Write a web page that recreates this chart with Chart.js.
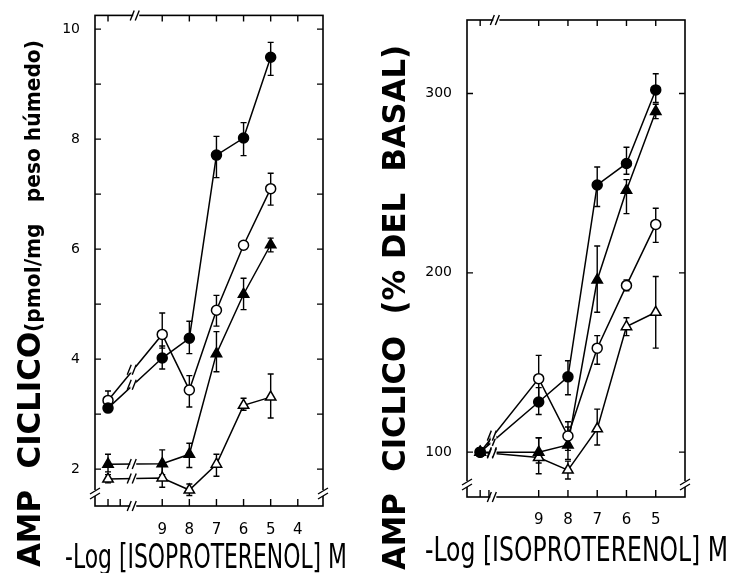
<!DOCTYPE html>
<html>
<head>
<meta charset="utf-8">
<script src="https://cdn.jsdelivr.net/npm/chart.js@4.4.1/dist/chart.umd.min.js"></script>
<style>
  html, body { margin: 0; padding: 0; background: #fff; }
  #wrap { position: relative; width: 734px; height: 573px; overflow: hidden; }
  canvas { position: absolute; top: 0; }
  #left { left: 0; }
  #right { left: 367px; }
</style>
</head>
<body>
<div id="wrap">
  <canvas id="left" width="367" height="573"></canvas>
  <canvas id="right" width="367" height="573"></canvas>
</div>
<script>
// -log [isoproterenol] M; 11 stands for the basal point (no drug), drawn before the axis break
const doses = [11, 9, 8, 7, 6, 5];
const leftTickLabels = [9, 8, 7, 6, 5, 4];
const rightTickLabels = [9, 8, 7, 6, 5];
const leftYTicks = [2, 4, 6, 8, 10];
const rightYTicks = [100, 200, 300];

// Left panel: AMP ciclico (pmol/mg peso humedo), mean and error bar ends
const leftFilledCircle   = [3.11, 4.02, 4.38, 7.71, 8.02, 9.49];
const leftFilledCircleHi = [3.18, 4.24, 4.69, 8.05, 8.30, 9.76];
const leftFilledCircleLo = [3.04, 3.82, 4.10, 7.30, 7.70, 9.16];
const leftOpenCircle     = [3.25, 4.45, 3.44, 4.89, 6.07, 7.10];
const leftOpenCircleHi   = [3.42, 4.84, 3.70, 5.16, 6.12, 7.38];
const leftOpenCircleLo   = [3.10, 4.20, 3.13, 4.60, 6.00, 6.80];
const leftFilledTri      = [2.09, 2.10, 2.27, 4.10, 5.18, 6.08];
const leftFilledTriHi    = [2.27, 2.35, 2.47, 4.50, 5.47, 6.20];
const leftFilledTriLo    = [1.95, 1.90, 2.03, 3.77, 4.90, 5.95];
const leftOpenTri        = [1.82, 1.84, 1.62, 2.09, 3.16, 3.31];
const leftOpenTriHi      = [1.90, 2.05, 1.73, 2.27, 3.29, 3.73];
const leftOpenTriLo      = [1.75, 1.67, 1.52, 1.87, 3.07, 2.93];

// Right panel: AMP ciclico (% del basal)
const rightFilledCircle   = [100, 128, 142, 249, 261, 302];
const rightFilledCircleHi = [100, 136, 151, 259, 270, 311];
const rightFilledCircleLo = [100, 121, 132, 237, 255, 295];
const rightOpenCircle     = [100, 141, 109, 158, 193, 227];
const rightOpenCircleHi   = [100, 154, 117, 165, 196, 236];
const rightOpenCircleLo   = [100, 130, 101, 149, 190, 217];
const rightFilledTri      = [100, 100, 104, 196, 246, 290];
const rightFilledTriHi    = [100, 108, 114, 215, 252, 294];
const rightFilledTriLo    = [100,  94,  96, 178, 233, 286];
const rightOpenTri        = [100,  97,  90, 113, 170, 178];
const rightOpenTriHi      = [100, 108,  95, 124, 175, 198];
const rightOpenTriLo      = [100,  88,  85, 104, 165, 158];

const TITLE_BOLD = "bold 32px 'DejaVu Sans', sans-serif";
const TITLE_SMALL = "bold 21px 'DejaVu Sans', sans-serif";
const TITLE_NARROW = "34px 'Liberation Sans Narrow', 'DejaVu Sans Condensed', sans-serif";

function series(values, hi, lo, style, filled) {
  return {
    data: doses.map((d, i) => ({ x: d, y: values[i] })),
    hi, lo,
    borderColor: '#000',
    borderWidth: 1.5,
    backgroundColor: filled ? '#000' : '#fff',
    pointStyle: style,
    pointRadius: style === 'triangle' ? 6 : 5,
    pointBorderWidth: 1.5,
    pointBorderColor: '#000',
    pointBackgroundColor: filled ? '#000' : '#fff',
    tension: 0,
    clip: false,
  };
}

// two short slashes across a line, with a small gap cut out first
function breakMark(ctx, cx, cy, vertical) {
  ctx.save();
  ctx.fillStyle = '#fff';
  ctx.fillRect(cx - 3, cy - 3, 6, 6);
  ctx.strokeStyle = '#000';
  ctx.lineWidth = 1.4;
  ctx.beginPath();
  if (vertical) {
    ctx.moveTo(cx - 5, cy + 1); ctx.lineTo(cx + 5, cy - 5);
    ctx.moveTo(cx - 5, cy + 6); ctx.lineTo(cx + 5, cy);
  } else {
    ctx.moveTo(cx - 6, cy + 5); ctx.lineTo(cx - 2, cy - 5);
    ctx.moveTo(cx - 1, cy + 5); ctx.lineTo(cx + 3, cy - 5);
  }
  ctx.stroke();
  ctx.restore();
}

function drawTitle(ctx, parts, x, y, len, rotate) {
  ctx.save();
  ctx.translate(x, y);
  if (rotate) ctx.rotate(-Math.PI / 2);
  let w = 0;
  parts.forEach((p) => { ctx.font = p.font; w += ctx.measureText(p.text).width; });
  ctx.scale(len / w, 1);
  ctx.fillStyle = '#000';
  ctx.textBaseline = 'alphabetic';
  ctx.textAlign = 'left';
  let cx = 0;
  parts.forEach((p) => { ctx.font = p.font; ctx.fillText(p.text, cx, 0); cx += ctx.measureText(p.text).width; });
  ctx.restore();
}

const framePlugin = {
  id: 'frame',
  beforeDatasetsDraw(chart, args, o) {
    const { ctx, chartArea: a, scales: { x, y } } = chart;
    ctx.save();
    ctx.strokeStyle = '#000';
    ctx.lineWidth = 1.6;
    ctx.strokeRect(a.left, a.top, a.right - a.left, a.bottom - a.top);
    ctx.lineWidth = 1.4;
    ctx.beginPath();
    o.bottomTicks.forEach((v) => {
      const px = x.getPixelForValue(v);
      ctx.moveTo(px, a.bottom); ctx.lineTo(px, a.bottom - 7);
    });
    o.topTicks.forEach((v) => {
      const px = x.getPixelForValue(v);
      ctx.moveTo(px, a.top); ctx.lineTo(px, a.top + 6);
    });
    o.sideTicks.forEach((v) => {
      const py = y.getPixelForValue(v);
      ctx.moveTo(a.left, py); ctx.lineTo(a.left + 6, py);
      ctx.moveTo(a.right, py); ctx.lineTo(a.right - 6, py);
    });
    ctx.stroke();
    breakMark(ctx, x.getPixelForValue(o.breakAt), a.bottom, false);
    breakMark(ctx, x.getPixelForValue(o.breakAt) + 3, a.top, false);
    breakMark(ctx, a.left, a.bottom - 13, true);
    breakMark(ctx, a.right, a.bottom - 13, true);

    // error bars, under the markers
    chart.data.datasets.forEach((ds) => {
      ds.data.forEach((p, i) => {
        const px = x.getPixelForValue(p.x);
        const yh = y.getPixelForValue(ds.hi[i]);
        const yl = y.getPixelForValue(ds.lo[i]);
        ctx.beginPath();
        ctx.moveTo(px, yh); ctx.lineTo(px, yl);
        ctx.moveTo(px - 3, yh); ctx.lineTo(px + 3, yh);
        ctx.moveTo(px - 3, yl); ctx.lineTo(px + 3, yl);
        ctx.stroke();
      });
    });
    ctx.restore();
  },
  afterDatasetsDraw(chart, args, o) {
    const { ctx, scales: { x, y } } = chart;
    // break marks on the segment from basal to the first dose
    chart.data.datasets.forEach((ds) => {
      const p0 = ds.data[0], p1 = ds.data[1];
      const x0 = x.getPixelForValue(p0.x), x1 = x.getPixelForValue(p1.x);
      const y0 = y.getPixelForValue(p0.y), y1 = y.getPixelForValue(p1.y);
      const bx = x.getPixelForValue(o.breakAt);
      const by = y0 + (y1 - y0) * (bx - x0) / (x1 - x0);
      breakMark(ctx, bx, by, false);
    });
  },
  afterDraw(chart, args, o) {
    const ctx = chart.ctx;
    drawTitle(ctx, o.yTitle, o.yTitleX, o.yTitleY, o.yTitleLen, true);
    drawTitle(ctx, [{ text: '-Log [ISOPROTERENOL] M', font: TITLE_NARROW }], o.xTitleX, o.xTitleY, o.xTitleLen, false);
  },
};

function makeChart(id, datasets, cfg) {
  return new Chart(document.getElementById(id), {
    type: 'line',
    data: { datasets },
    plugins: [framePlugin],
    options: {
      responsive: false,
      animation: false,
      layout: { padding: { left: 0, top: cfg.top, right: cfg.right, bottom: 0 } },
      plugins: { legend: { display: false }, tooltip: { enabled: false }, frame: cfg.frame },
      scales: {
        x: {
          type: 'linear', reverse: true, min: cfg.xMin, max: cfg.xMax,
          grid: { display: false }, border: { display: false },
          afterBuildTicks: (s) => { s.ticks = cfg.xLabels.map((v) => ({ value: v })); },
          afterFit: (s) => { s.height = cfg.xHeight; },
          ticks: { color: '#000', padding: cfg.xPad, maxRotation: 0, font: { family: "'DejaVu Sans', sans-serif", size: 15 } },
        },
        y: {
          type: 'linear', min: cfg.yMin, max: cfg.yMax,
          grid: { display: false }, border: { display: false },
          afterBuildTicks: (s) => { s.ticks = cfg.yLabels.map((v) => ({ value: v })); },
          afterFit: (s) => { s.width = cfg.yWidth; },
          ticks: { color: '#000', padding: 7, font: { family: "'DejaVu Sans', sans-serif", size: 14 } },
        },
      },
    },
  });
}

makeChart('left', [
  series(leftFilledCircle, leftFilledCircleHi, leftFilledCircleLo, 'circle', true),
  series(leftOpenCircle, leftOpenCircleHi, leftOpenCircleLo, 'circle', false),
  series(leftFilledTri, leftFilledTriHi, leftFilledTriLo, 'triangle', true),
  series(leftOpenTri, leftOpenTriHi, leftOpenTriLo, 'triangle', false),
], {
  top: 14, right: 44, xHeight: 67, yWidth: 95, xPad: 7,
  xMin: 3.07, xMax: 11.48, yMin: 1.33, yMax: 10.25,
  xLabels: leftTickLabels, yLabels: leftYTicks,
  frame: {
    bottomTicks: [11, 10.55, 9, 8, 7, 6, 5, 4],
    topTicks: [11, 9, 8, 7, 6, 5, 4],
    sideTicks: [2, 3, 4, 5, 6, 7, 8, 9, 10],
    breakAt: 10.07,
    yTitle: [
      { text: 'AMP  CICLICO', font: TITLE_BOLD },
      { text: '(pmol/mg   peso húmedo)', font: TITLE_SMALL },
    ],
    yTitleX: 40, yTitleY: 567, yTitleLen: 527,
    xTitleX: 65, xTitleY: 568, xTitleLen: 282,
  },
});

makeChart('right', [
  series(rightFilledCircle, rightFilledCircleHi, rightFilledCircleLo, 'circle', true),
  series(rightOpenCircle, rightOpenCircleHi, rightOpenCircleLo, 'circle', false),
  series(rightFilledTri, rightFilledTriHi, rightFilledTriLo, 'triangle', true),
  series(rightOpenTri, rightOpenTriHi, rightOpenTriLo, 'triangle', false),
], {
  top: 20, right: 49, xHeight: 76, yWidth: 100, xPad: 6,
  xMin: 4.0, xMax: 11.45, yMin: 75, yMax: 341,
  xLabels: rightTickLabels, yLabels: rightYTicks,
  frame: {
    bottomTicks: [11, 10.7, 9, 8, 7, 6, 5],
    topTicks: [11, 9, 8, 7, 6, 5],
    sideTicks: [100, 200, 300],
    breakAt: 10.55,
    yTitle: [{ text: 'AMP  CICLICO  (% DEL  BASAL)', font: TITLE_BOLD }],
    yTitleX: 38, yTitleY: 570, yTitleLen: 525,
    xTitleX: 58, xTitleY: 561, xTitleLen: 303,
  },
});
</script>
</body>
</html>
